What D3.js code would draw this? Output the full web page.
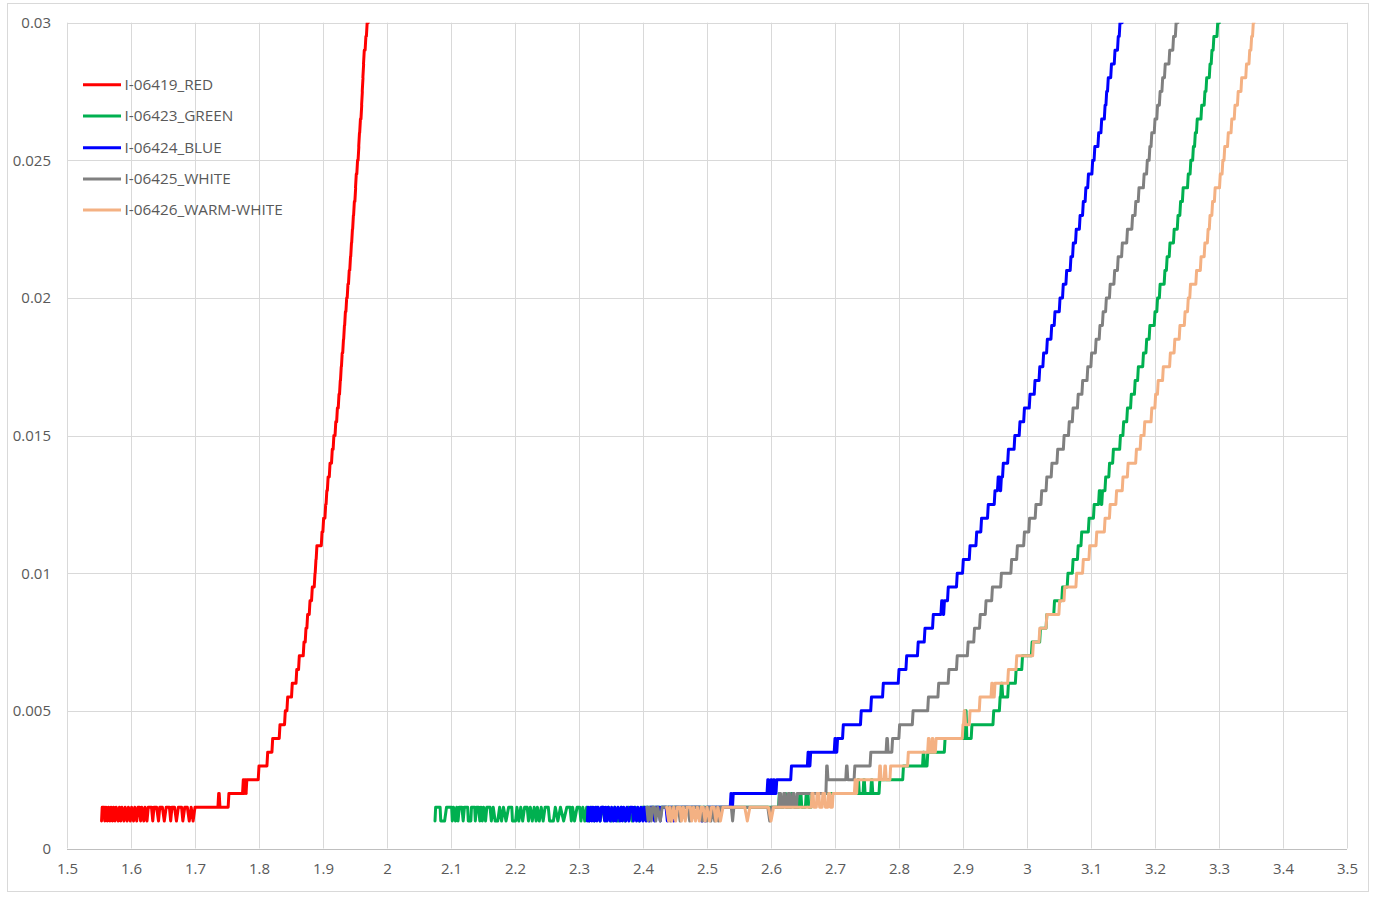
<!DOCTYPE html>
<html>
<head>
<meta charset="utf-8">
<script src="https://cdn.jsdelivr.net/npm/d3@7"></script>
<style>
  html, body { margin: 0; padding: 0; background: #ffffff; }
  svg { display: block; }
  text { font-family: "Open Sans", "Liberation Sans", sans-serif; fill: #595959; }
</style>
</head>
<body>
<svg id="chart" width="1373" height="897"></svg>
<script>
// ---------------- data ----------------
const xTicks = [1.5, 1.6, 1.7, 1.8, 1.9, 2, 2.1, 2.2, 2.3, 2.4, 2.5, 2.6, 2.7, 2.8, 2.9, 3, 3.1, 3.2, 3.3, 3.4, 3.5];
const xTickLabels = ["1.5","1.6","1.7","1.8","1.9","2","2.1","2.2","2.3","2.4","2.5","2.6","2.7","2.8","2.9","3","3.1","3.2","3.3","3.4","3.5"];
const yTicks = [0, 0.005, 0.01, 0.015, 0.02, 0.025, 0.03];
const yTickLabels = ["0", "0.005", "0.01", "0.015", "0.02", "0.025", "0.03"];
const seriesNames = ["I-06419_RED", "I-06423_GREEN", "I-06424_BLUE", "I-06425_WHITE", "I-06426_WARM-WHITE"];

// noise part of each trace: [voltage, current] drawn point to point
const redNoise = [[1.554,0.001],[1.555,0.0015],[1.558,0.0015],[1.559,0.001],[1.561,0.0015],[1.563,0.001],[1.565,0.0015],[1.567,0.001],[1.569,0.0015],[1.571,0.001],[1.573,0.0015],[1.575,0.001],[1.577,0.0015],[1.580,0.001],[1.582,0.0015],[1.584,0.001],[1.586,0.0015],[1.589,0.001],[1.591,0.0015],[1.594,0.001],[1.596,0.0015],[1.599,0.001],[1.601,0.0015],[1.604,0.001],[1.606,0.0015],[1.609,0.001],[1.611,0.0015],[1.613,0.0015],[1.615,0.001],[1.617,0.0015],[1.620,0.001],[1.622,0.0015],[1.625,0.001],[1.627,0.0015],[1.632,0.0015],[1.634,0.001],[1.636,0.0015],[1.640,0.0015],[1.643,0.001],[1.645,0.0015],[1.649,0.0015],[1.652,0.001],[1.655,0.0015],[1.660,0.0015],[1.662,0.001],[1.664,0.0015],[1.668,0.0015],[1.671,0.001],[1.674,0.0015],[1.679,0.0015],[1.681,0.001],[1.684,0.0015],[1.688,0.0015],[1.691,0.001],[1.694,0.0015],[1.697,0.001],[1.700,0.0015]];
const greenNoise = [[2.075,0.001],[2.076,0.0015],[2.083,0.0015],[2.084,0.001],[2.090,0.001],[2.093,0.0015],[2.101,0.0015],[2.102,0.001],[2.104,0.0015],[2.107,0.001],[2.109,0.0015],[2.111,0.001],[2.113,0.0015],[2.117,0.0015],[2.119,0.001],[2.121,0.0015],[2.126,0.0015],[2.127,0.001],[2.131,0.001],[2.132,0.0015],[2.137,0.0015],[2.138,0.001],[2.140,0.0015],[2.143,0.0015],[2.145,0.001],[2.147,0.0015],[2.149,0.001],[2.151,0.0015],[2.154,0.001],[2.156,0.0015],[2.161,0.0015],[2.163,0.001],[2.166,0.0015],[2.169,0.001],[2.173,0.001],[2.176,0.0015],[2.179,0.001],[2.182,0.0015],[2.186,0.001],[2.190,0.0015],[2.195,0.0015],[2.196,0.001],[2.201,0.001],[2.203,0.0015],[2.206,0.001],[2.209,0.0015],[2.212,0.001],[2.215,0.0015],[2.219,0.0015],[2.221,0.001],[2.224,0.0015],[2.227,0.001],[2.230,0.0015],[2.233,0.001],[2.235,0.0015],[2.238,0.001],[2.241,0.0015],[2.244,0.001],[2.247,0.0015],[2.252,0.0015],[2.254,0.001],[2.260,0.001],[2.263,0.0015],[2.267,0.001],[2.271,0.0015],[2.276,0.001],[2.281,0.0015],[2.286,0.0015],[2.288,0.001],[2.290,0.0015],[2.293,0.001],[2.297,0.0015],[2.301,0.0015],[2.303,0.001],[2.306,0.0015],[2.309,0.001],[2.312,0.0015],[2.316,0.001],[2.320,0.0015],[2.324,0.001],[2.328,0.0015],[2.333,0.001],[2.337,0.0015],[2.342,0.001],[2.346,0.0015],[2.351,0.001],[2.356,0.0015],[2.361,0.001],[2.366,0.0015],[2.372,0.001],[2.377,0.0015],[2.383,0.001],[2.388,0.0015],[2.394,0.001],[2.399,0.0015],[2.405,0.0015]];
const blueNoise = [[2.313,0.001],[2.314,0.0015],[2.316,0.001],[2.318,0.0015],[2.320,0.001],[2.322,0.0015],[2.324,0.001],[2.326,0.0015],[2.328,0.001],[2.330,0.0015],[2.333,0.001],[2.335,0.0015],[2.338,0.0015],[2.340,0.001],[2.342,0.0015],[2.344,0.001],[2.346,0.0015],[2.349,0.001],[2.351,0.0015],[2.354,0.001],[2.356,0.0015],[2.358,0.001],[2.361,0.0015],[2.364,0.001],[2.366,0.0015],[2.368,0.001],[2.370,0.0015],[2.373,0.001],[2.375,0.0015],[2.378,0.001],[2.380,0.0015],[2.383,0.0015],[2.385,0.001],[2.387,0.0015],[2.390,0.001],[2.392,0.0015],[2.395,0.001],[2.397,0.0015],[2.400,0.001],[2.402,0.0015],[2.405,0.001],[2.407,0.0015],[2.410,0.001],[2.412,0.0015],[2.416,0.0015],[2.418,0.001],[2.420,0.0015],[2.425,0.0015],[2.427,0.001],[2.429,0.0015],[2.436,0.0015],[2.438,0.001],[2.440,0.0015],[2.446,0.0015],[2.448,0.001],[2.450,0.0015],[2.489,0.0015],[2.492,0.001],[2.495,0.0015],[2.497,0.001],[2.500,0.0015],[2.530,0.0015]];
const grayNoise = [[2.406,0.0015],[2.408,0.001],[2.410,0.0015],[2.413,0.001],[2.415,0.0015],[2.418,0.0015],[2.420,0.001],[2.423,0.0015],[2.427,0.001],[2.430,0.0015],[2.440,0.0015],[2.443,0.001],[2.446,0.0015],[2.455,0.0015],[2.458,0.001],[2.461,0.0015],[2.470,0.0015],[2.473,0.001],[2.476,0.0015],[2.490,0.0015],[2.493,0.001],[2.496,0.0015],[2.500,0.001],[2.503,0.0015],[2.506,0.001],[2.509,0.0015],[2.512,0.001],[2.515,0.0015],[2.518,0.001],[2.521,0.0015],[2.538,0.0015],[2.540,0.001],[2.542,0.0015],[2.595,0.0015],[2.598,0.001],[2.601,0.0015]];
const orangeNoise = [[2.437,0.0015],[2.440,0.001],[2.442,0.0015],[2.445,0.001],[2.448,0.0015],[2.451,0.001],[2.454,0.0015],[2.458,0.0015],[2.460,0.001],[2.463,0.0015],[2.466,0.001],[2.469,0.0015],[2.474,0.0015],[2.476,0.001],[2.479,0.0015],[2.482,0.001],[2.485,0.0015],[2.488,0.001],[2.491,0.0015],[2.494,0.0015],[2.497,0.001],[2.500,0.0015],[2.504,0.001],[2.507,0.0015],[2.511,0.0015],[2.514,0.001],[2.517,0.0015],[2.521,0.001],[2.525,0.0015],[2.559,0.0015],[2.563,0.001],[2.567,0.0015],[2.596,0.0015],[2.600,0.001],[2.604,0.0015],[2.610,0.0015]];

// staircase part of each trace: [voltage where the reading changes, new current]
const redSteps = [[1.700,0.0015],[1.737,0.002],[1.739,0.0015],[1.753,0.002],[1.7755,0.0025],[1.777,0.002],[1.778,0.0025],[1.780,0.002],[1.781,0.0025],[1.800,0.003],[1.8136,0.0035],[1.8214,0.004],[1.8328,0.0045],[1.8411,0.005],[1.8448,0.0055],[1.852,0.006],[1.859,0.0065],[1.863,0.007],[1.8703,0.0075],[1.8734,0.008],[1.876,0.0085],[1.8797,0.009],[1.8833,0.0095],[1.8875,0.010],[1.889,0.0105],[1.8905,0.011],[1.8985,0.0115],[1.901,0.012],[1.9042,0.0125],[1.906,0.013],[1.908,0.0135],[1.911,0.014],[1.9145,0.0145],[1.917,0.015],[1.920,0.0155],[1.9225,0.016],[1.925,0.0165],[1.927,0.017],[1.9285,0.0175],[1.930,0.018],[1.932,0.0185],[1.9335,0.019],[1.935,0.0195],[1.937,0.020],[1.939,0.0205],[1.941,0.021],[1.943,0.0215],[1.9445,0.022],[1.946,0.0225],[1.9475,0.023],[1.949,0.0235],[1.951,0.024],[1.952,0.0245],[1.954,0.025],[1.956,0.0255],[1.957,0.026],[1.9585,0.0265],[1.9605,0.027],[1.9615,0.0275],[1.9625,0.028],[1.9635,0.0285],[1.9645,0.029],[1.967,0.0295],[1.969,0.030],[1.972,0.0305],[1.975,0.0305]];
const greenSteps = [[2.405,0.0015],[2.613,0.002],[2.615,0.0015],[2.621,0.002],[2.624,0.0015],[2.632,0.002],[2.636,0.0015],[2.645,0.002],[2.648,0.0015],[2.655,0.002],[2.659,0.0015],[2.664,0.002],[2.736,0.0025],[2.738,0.002],[2.745,0.0025],[2.747,0.002],[2.757,0.0025],[2.759,0.002],[2.770,0.0025],[2.807,0.003],[2.838,0.0035],[2.840,0.003],[2.845,0.0035],[2.872,0.004],[2.904,0.005],[2.906,0.004],[2.914,0.0045],[2.948,0.005],[2.958,0.0055],[2.960,0.006],[2.962,0.0055],[2.971,0.006],[2.983,0.0065],[2.993,0.007],[3.008,0.0075],[3.021,0.008],[3.031,0.0085],[3.043,0.009],[3.0555,0.0095],[3.064,0.010],[3.072,0.0105],[3.080,0.011],[3.0855,0.0115],[3.097,0.012],[3.105,0.0125],[3.113,0.013],[3.116,0.0125],[3.118,0.013],[3.123,0.0135],[3.129,0.014],[3.135,0.0145],[3.146,0.015],[3.151,0.0155],[3.157,0.016],[3.163,0.0165],[3.169,0.017],[3.174,0.0175],[3.182,0.018],[3.187,0.0185],[3.192,0.019],[3.200,0.0195],[3.204,0.020],[3.208,0.0205],[3.2155,0.021],[3.219,0.0215],[3.2234,0.022],[3.230,0.0225],[3.236,0.023],[3.240,0.0235],[3.244,0.024],[3.252,0.0245],[3.256,0.025],[3.260,0.0255],[3.263,0.026],[3.266,0.0265],[3.273,0.027],[3.278,0.0275],[3.2808,0.028],[3.286,0.0285],[3.289,0.029],[3.292,0.0295],[3.298,0.030],[3.302,0.0305],[3.306,0.0305]];
const blueSteps = [[2.530,0.0015],[2.5375,0.002],[2.539,0.0015],[2.541,0.002],[2.595,0.0025],[2.597,0.002],[2.600,0.0025],[2.602,0.002],[2.604,0.0025],[2.606,0.002],[2.609,0.0025],[2.632,0.003],[2.658,0.0035],[2.660,0.003],[2.662,0.0035],[2.700,0.004],[2.702,0.0035],[2.704,0.004],[2.713,0.0045],[2.741,0.005],[2.757,0.0055],[2.7755,0.006],[2.800,0.0065],[2.812,0.007],[2.830,0.0075],[2.8406,0.008],[2.8536,0.0085],[2.8667,0.009],[2.869,0.0085],[2.871,0.009],[2.877,0.0095],[2.891,0.010],[2.9005,0.0105],[2.911,0.011],[2.9214,0.0115],[2.929,0.012],[2.9395,0.0125],[2.950,0.013],[2.955,0.0135],[2.958,0.013],[2.960,0.0135],[2.963,0.014],[2.971,0.0145],[2.981,0.015],[2.989,0.0155],[2.996,0.016],[3.0047,0.0165],[3.0125,0.017],[3.020,0.0175],[3.026,0.018],[3.0318,0.0185],[3.0386,0.019],[3.0437,0.0195],[3.0516,0.020],[3.0567,0.0205],[3.062,0.021],[3.0687,0.0215],[3.0724,0.022],[3.077,0.0225],[3.083,0.023],[3.088,0.0235],[3.092,0.024],[3.096,0.0245],[3.1026,0.025],[3.106,0.0255],[3.112,0.026],[3.1167,0.0265],[3.122,0.027],[3.1245,0.0275],[3.127,0.028],[3.132,0.0285],[3.1375,0.029],[3.1426,0.0295],[3.1453,0.030],[3.150,0.0305],[3.154,0.0305]];
const graySteps = [[2.601,0.0015],[2.6135,0.002],[2.616,0.0015],[2.620,0.002],[2.623,0.0015],[2.627,0.002],[2.630,0.0015],[2.634,0.002],[2.637,0.0015],[2.641,0.002],[2.687,0.003],[2.689,0.0025],[2.718,0.003],[2.720,0.0025],[2.731,0.003],[2.756,0.0035],[2.781,0.004],[2.783,0.0035],[2.790,0.004],[2.801,0.0045],[2.822,0.005],[2.846,0.0055],[2.862,0.006],[2.878,0.0065],[2.891,0.007],[2.908,0.0075],[2.918,0.008],[2.927,0.0085],[2.936,0.009],[2.946,0.0095],[2.960,0.010],[2.976,0.0105],[2.985,0.011],[2.996,0.0115],[3.004,0.012],[3.014,0.0125],[3.023,0.013],[3.031,0.0135],[3.039,0.014],[3.048,0.0145],[3.058,0.015],[3.066,0.0155],[3.072,0.016],[3.080,0.0165],[3.087,0.017],[3.095,0.0175],[3.101,0.018],[3.108,0.0185],[3.114,0.019],[3.119,0.0195],[3.124,0.020],[3.130,0.0205],[3.137,0.021],[3.1425,0.0215],[3.149,0.022],[3.157,0.0225],[3.165,0.023],[3.170,0.0235],[3.175,0.024],[3.183,0.0245],[3.188,0.025],[3.192,0.0255],[3.195,0.026],[3.200,0.0265],[3.204,0.027],[3.208,0.0275],[3.212,0.028],[3.216,0.0285],[3.223,0.029],[3.229,0.0295],[3.233,0.030],[3.237,0.0305],[3.240,0.0305]];
const orangeSteps = [[2.610,0.0015],[2.664,0.002],[2.667,0.0015],[2.672,0.002],[2.676,0.0015],[2.681,0.002],[2.685,0.0015],[2.690,0.002],[2.693,0.0015],[2.697,0.002],[2.7315,0.0025],[2.733,0.002],[2.735,0.0025],[2.770,0.003],[2.772,0.0025],[2.778,0.003],[2.780,0.0025],[2.787,0.003],[2.8146,0.0035],[2.846,0.004],[2.848,0.0035],[2.852,0.004],[2.854,0.0035],[2.858,0.004],[2.900,0.0045],[2.902,0.005],[2.904,0.0045],[2.911,0.005],[2.9266,0.0055],[2.945,0.006],[2.947,0.0055],[2.950,0.006],[2.971,0.0065],[2.984,0.007],[3.010,0.0075],[3.020,0.008],[3.031,0.0085],[3.051,0.009],[3.059,0.0095],[3.0776,0.010],[3.088,0.0105],[3.098,0.011],[3.109,0.0115],[3.122,0.012],[3.130,0.0125],[3.140,0.013],[3.150,0.0135],[3.158,0.014],[3.171,0.0145],[3.178,0.015],[3.184,0.0155],[3.195,0.016],[3.201,0.0165],[3.205,0.017],[3.213,0.0175],[3.224,0.018],[3.231,0.0185],[3.239,0.019],[3.247,0.0195],[3.252,0.020],[3.2555,0.0205],[3.265,0.021],[3.272,0.0215],[3.278,0.022],[3.283,0.0225],[3.286,0.023],[3.290,0.0235],[3.294,0.024],[3.302,0.0245],[3.306,0.025],[3.309,0.0255],[3.3145,0.026],[3.320,0.0265],[3.325,0.027],[3.330,0.0275],[3.3355,0.028],[3.343,0.0285],[3.348,0.029],[3.351,0.0295],[3.3536,0.030],[3.356,0.0305],[3.360,0.0305]];

// ---------------- styles ----------------
const seriesColors = ["#FF0000", "#00B050", "#0000FF", "#808080", "#F4B183"];
const noiseSets = [redNoise, greenNoise, blueNoise, grayNoise, orangeNoise];
const stepSets = [redSteps, greenSteps, blueSteps, graySteps, orangeSteps];
const LINE_W = 3;
const RISE = 0.0012; // horizontal run of each jump between readings (volts)
const FONT = "'Open Sans', 'Liberation Sans', sans-serif";

const svg = d3.select("#chart");
const plot = { left: 67, right: 1347, top: 22.7, bottom: 848.5 };

// outer chart border
svg.append("rect").attr("x", 7.5).attr("y", 3.5).attr("width", 1361).attr("height", 888)
  .attr("fill", "#ffffff").attr("stroke", "#d9d9d9").attr("stroke-width", 1);

const x = d3.scaleLinear().domain([1.5, 3.5]).range([plot.left, plot.right]);
const y = d3.scaleLinear().domain([0, 0.03]).range([plot.bottom, plot.top]);

// gridlines
const grid = svg.append("g");
grid.selectAll("line.v").data(xTicks).enter().append("line")
  .attr("x1", d => Math.round(x(d)) + 0.5).attr("x2", d => Math.round(x(d)) + 0.5)
  .attr("y1", plot.top).attr("y2", plot.bottom)
  .attr("stroke", "#d9d9d9").attr("stroke-width", 1);
grid.selectAll("line.h").data(yTicks).enter().append("line")
  .attr("y1", d => Math.round(y(d)) + 0.5).attr("y2", d => Math.round(y(d)) + 0.5)
  .attr("x1", plot.left).attr("x2", plot.right)
  .attr("stroke", d => d === 0 ? "#bfbfbf" : "#d9d9d9").attr("stroke-width", 1);

// axes labels via d3 axes
const xAxis = d3.axisBottom(x).tickValues(xTicks).tickFormat((d, i) => xTickLabels[i]).tickSize(0).tickPadding(0);
const gx = svg.append("g").attr("transform", `translate(0, ${plot.bottom + 14.5})`).call(xAxis);
gx.select(".domain").remove();
gx.selectAll("text").attr("font-size", 15).attr("fill", "#595959").attr("font-family", FONT);

const yAxis = d3.axisLeft(y).tickValues(yTicks).tickFormat((d, i) => yTickLabels[i]).tickSize(0).tickPadding(0);
const gy = svg.append("g").attr("transform", `translate(${plot.left - 16}, 0)`).call(yAxis);
gy.select(".domain").remove();
gy.selectAll("text").attr("font-size", 15).attr("fill", "#595959").attr("font-family", FONT);

// clip
svg.append("defs").append("clipPath").attr("id", "plotclip").append("rect")
  .attr("x", plot.left).attr("y", plot.top).attr("width", plot.right - plot.left).attr("height", plot.bottom - plot.top);

const series = svg.append("g").attr("clip-path", "url(#plotclip)");
const line = d3.line().x(d => x(d[0])).y(d => y(d[1])).curve(d3.curveLinear);

// staircase vertices: hold previous reading until just before each change
function stairVertices(steps) {
  const out = [steps[0]];
  for (let i = 1; i < steps.length; i++) {
    out.push([steps[i][0] - RISE, steps[i - 1][1]]);
    out.push(steps[i]);
  }
  return out;
}

seriesNames.forEach((name, i) => {
  const g = series.append("g");
  g.append("path").datum(noiseSets[i].concat(stairVertices(stepSets[i]))).attr("d", line)
    .attr("fill", "none").attr("stroke", seriesColors[i]).attr("stroke-width", LINE_W)
    .attr("stroke-linejoin", "round").attr("stroke-linecap", "round");
});

// legend
const legend = svg.append("g");
const legendRows = [84.7, 116, 147.7, 179, 210];
seriesNames.forEach((name, i) => {
  legend.append("line").attr("x1", 83).attr("x2", 121).attr("y1", legendRows[i]).attr("y2", legendRows[i])
    .attr("stroke", seriesColors[i]).attr("stroke-width", LINE_W);
  legend.append("text").attr("x", 124.5).attr("y", legendRows[i]).attr("dy", "0.35em")
    .attr("font-size", 15.3).attr("fill", "#595959").attr("font-family", FONT).text(name);
});
</script>
</body>
</html>
